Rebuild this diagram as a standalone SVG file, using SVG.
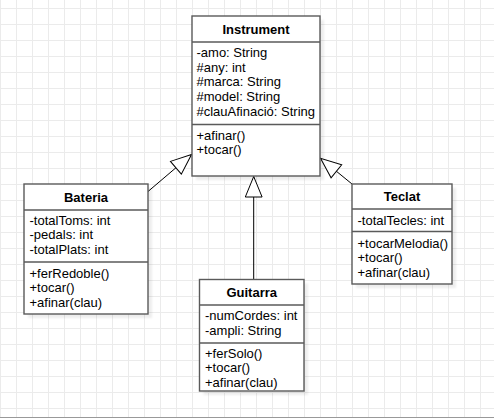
<svg xmlns="http://www.w3.org/2000/svg" width="494" height="418" viewBox="0 0 494 418">
  <defs>
    <pattern id="grid" x="0" y="8" width="16" height="16" patternUnits="userSpaceOnUse">
      <path d="M0.5,0 V16 M0,0.5 H16" fill="none" stroke="#ebebeb" stroke-width="1"/>
    </pattern>
    <filter id="blur" x="-10%" y="-10%" width="120%" height="120%">
      <feGaussianBlur stdDeviation="1.2"/>
    </filter>
    <marker id="inherit" markerUnits="userSpaceOnUse" orient="auto" refX="0" refY="0" markerWidth="30" markerHeight="30" overflow="visible">
      <path d="M0,0 L-20.5,-8.4 L-20.5,8.4 Z" fill="#fff" stroke="#000" stroke-width="1"/>
    </marker>
  </defs>
  <style>
    .shadow { fill: #000; fill-opacity: 0.07; filter: url(#blur); }
    .box { fill: #fff; stroke: #5a5a5a; stroke-width: 1.4; }
    .sep { stroke: #5a5a5a; stroke-width: 1.4; }
    .title { font-family: "Liberation Sans", Arial, sans-serif; font-size: 13px; font-weight: bold; fill: #000; text-anchor: middle; }
    .txt { font-family: "Liberation Sans", Arial, sans-serif; font-size: 13px; fill: #000; }
    .conn { fill: none; stroke: #000; stroke-width: 1; marker-end: url(#inherit); }
  </style>
  <rect width="494" height="418" fill="#fff"/>
  <rect width="494" height="418" fill="url(#grid)"/>
  <line x1="0" y1="417.5" x2="494" y2="417.5" stroke="#999" stroke-width="1"/>

  <g id="connectors">
    <line class="conn" x1="148" y1="191.5" x2="191.5" y2="154.5"/>
    <line class="conn" x1="253.7" y1="279.5" x2="253.7" y2="176.5"/>
    <line class="conn" x1="352" y1="184" x2="320.5" y2="158.3"/>
  </g>

  <g id="Instrument">
    <rect class="shadow" x="196" y="20" width="128" height="160"/>
    <rect class="box" x="192" y="16" width="128" height="160"/>
    <line class="sep" x1="192" y1="42" x2="320" y2="42"/>
    <line class="sep" x1="192" y1="124.5" x2="320" y2="124.5"/>
    <text class="title" x="256" y="33.5">Instrument</text>
    <text class="txt" x="196.5" y="57">-amo: String</text>
    <text class="txt" x="196.5" y="71.7">#any: int</text>
    <text class="txt" x="196.5" y="86.4">#marca: String</text>
    <text class="txt" x="196.5" y="101.1">#model: String</text>
    <text class="txt" x="196.5" y="115.8">#clauAfinació: String</text>
    <text class="txt" x="196.5" y="139.5">+afinar()</text>
    <text class="txt" x="196.5" y="154.2">+tocar()</text>
  </g>

  <g id="Bateria">
    <rect class="shadow" x="28" y="188" width="124" height="130"/>
    <rect class="box" x="24" y="184" width="124" height="130"/>
    <line class="sep" x1="24" y1="210" x2="148" y2="210"/>
    <line class="sep" x1="24" y1="262" x2="148" y2="262"/>
    <text class="title" x="86" y="201.5">Bateria</text>
    <text class="txt" x="29.5" y="224.5">-totalToms: int</text>
    <text class="txt" x="29.5" y="239.2">-pedals: int</text>
    <text class="txt" x="29.5" y="253.9">-totalPlats: int</text>
    <text class="txt" x="29.5" y="277.5">+ferRedoble()</text>
    <text class="txt" x="29.5" y="292.2">+tocar()</text>
    <text class="txt" x="29.5" y="306.9">+afinar(clau)</text>
  </g>

  <g id="Guitarra">
    <rect class="shadow" x="203.5" y="283.5" width="104.5" height="111.5"/>
    <rect class="box" x="199.5" y="279.5" width="104.5" height="111.5"/>
    <line class="sep" x1="199.5" y1="305" x2="304" y2="305"/>
    <line class="sep" x1="199.5" y1="343" x2="304" y2="343"/>
    <text class="title" x="251.7" y="297.2">Guitarra</text>
    <text class="txt" x="205" y="320.2">-numCordes: int</text>
    <text class="txt" x="205" y="335">-ampli: String</text>
    <text class="txt" x="205" y="357.5">+ferSolo()</text>
    <text class="txt" x="205" y="372.2">+tocar()</text>
    <text class="txt" x="205" y="386.9">+afinar(clau)</text>
  </g>

  <g id="Teclat">
    <rect class="shadow" x="356" y="188" width="100" height="100"/>
    <rect class="box" x="352" y="184" width="100" height="100"/>
    <line class="sep" x1="352" y1="209" x2="452" y2="209"/>
    <line class="sep" x1="352" y1="231.5" x2="452" y2="231.5"/>
    <text class="title" x="402" y="201.2">Teclat</text>
    <text class="txt" x="357.5" y="224.5">-totalTecles: int</text>
    <text class="txt" x="357.5" y="247.7">+tocarMelodia()</text>
    <text class="txt" x="357.5" y="262.2">+tocar()</text>
    <text class="txt" x="357.5" y="276.9">+afinar(clau)</text>
  </g>
</svg>
